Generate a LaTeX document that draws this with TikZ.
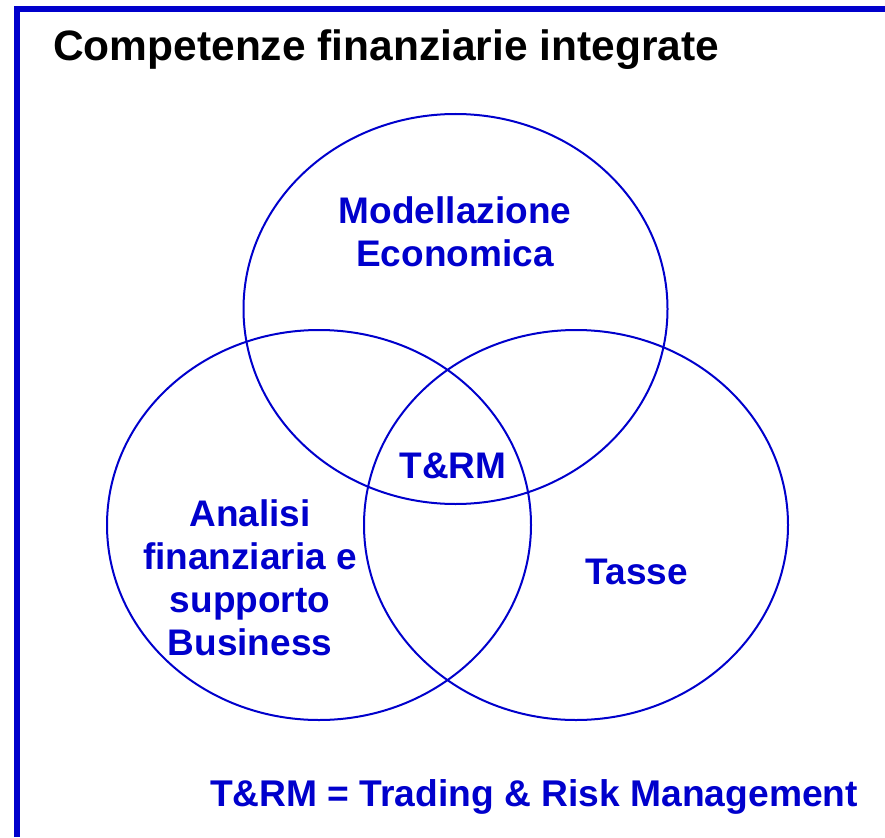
\documentclass[tikz,border=0pt]{standalone}
\usepackage{fontspec}
\setmainfont{Liberation Sans}
\definecolor{vennblue}{RGB}{0,0,204}
\tikzset{
  label/.style={text=vennblue, font=\bfseries\fontsize{37}{43}\selectfont, align=center, inner sep=0pt},
  set/.style={draw=vennblue, line width=2pt}
}
\begin{document}
\begin{tikzpicture}[x=1pt,y=-1pt]
\useasboundingbox (0,0) rectangle (885,837);
% frame
\draw[vennblue, line width=6pt] (17,837)--(17,9.5)--(885,9.5);

\node (title) at (53,50)[anchor=west, inner sep=0pt, font=\bfseries\fontsize{42.5}{50}\selectfont]{Competenze finanziarie integrate};

% the three sets
\draw[set] (455.5,309) ellipse [x radius=212pt, y radius=195pt];
\draw[set] (319,525) ellipse [x radius=212pt, y radius=195pt];
\draw[set] (576,525) ellipse [x radius=212pt, y radius=195pt];

\node (mod) at (455,232)[label]{Modellazione\\Economica};
\node (trm) at (453,466)[label]{T\&RM};
\node (ana) at (250,578)[label]{Analisi\\finanziaria e\\supporto\\Business};
\node (tax) at (637,572)[label]{Tasse};

\node (legend) at (534,797)[label, font=\bfseries\fontsize{37.2}{43}\selectfont]{T\&RM = Trading \& Risk Management};
\end{tikzpicture}
\end{document}
